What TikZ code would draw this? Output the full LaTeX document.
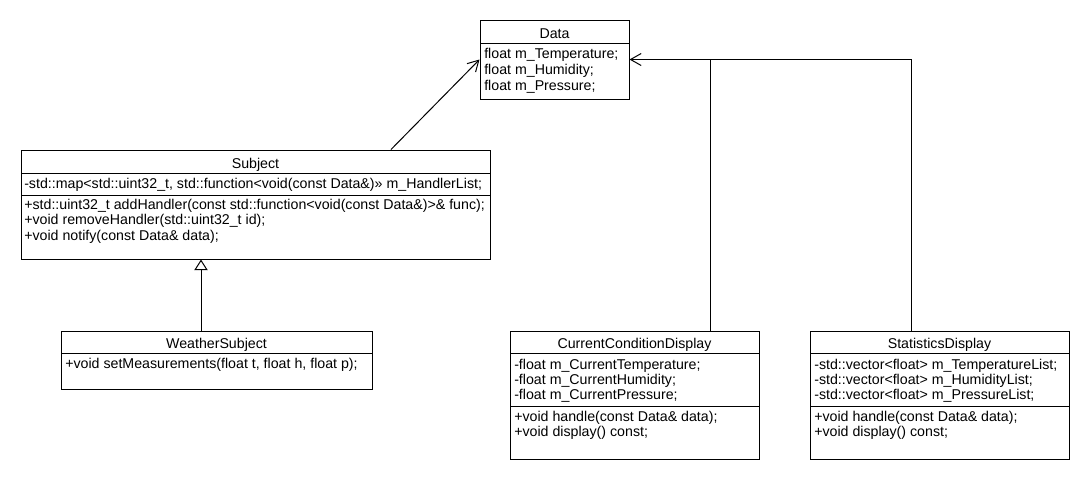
\documentclass[tikz,border=0pt]{standalone}
\usepackage{fontspec}
\setmainfont{Liberation Sans}
\usetikzlibrary{arrows.meta,fit}
\begin{document}
\begin{tikzpicture}[x=0.75pt,y=-0.75pt,
  classbox/.style={draw=black,line width=0.75pt,inner sep=0pt,fill=white},
  sepline/.style={draw=black,line width=0.75pt},
  txt/.style={inner sep=0pt,font=\fontsize{10.65pt}{12pt}\selectfont,text=black},
  title/.style={txt,anchor=base},
  member/.style={txt,anchor=base west},
  assoc/.style={draw=black,line width=0.75pt,-{Straight Barb[length=8pt,width=9pt,line width=0.75pt]}},
  gen/.style={draw=black,line width=0.75pt,-{Triangle[open,length=8pt,width=10pt,line width=0.75pt,fill=white]}},
  plainline/.style={draw=black,line width=0.75pt}
]
\useasboundingbox[fill=white] (0,0) rectangle (1090,480);

% ---------- Data ----------
\node[classbox,fit={(480,20) (629,99)}] (data) {};
\draw[sepline] (480,43) -- (629,43);
\node[title] (dataT) at (554.5,38) {Data};
\node[member] (dataA1) at (484,58) {float m\_Temperature;};
\node[member] (dataA2) at (484,74) {float m\_Humidity;};
\node[member] (dataA3) at (484,90) {float m\_Pressure;};

% ---------- Subject ----------
\node[classbox,fit={(21,150) (490,259)}] (subject) {};
\draw[sepline] (21,173) -- (490,173);
\draw[sepline] (21,195) -- (490,195);
\node[title] (subjT) at (255.5,168) {Subject};
\node[member] (subjA1) at (24,188) {-std::map<std::uint32\_t, std::function<void(const Data\&)» m\_HandlerList;};
\node[member] (subjM1) at (24,209) {+std::uint32\_t addHandler(const std::function<void(const Data\&)>\& func);};
\node[member] (subjM2) at (24,224.5) {+void removeHandler(std::uint32\_t id);};
\node[member] (subjM3) at (24,240) {+void notify(const Data\& data);};

% ---------- WeatherSubject ----------
\node[classbox,fit={(61,331) (372,389)}] (weather) {};
\draw[sepline] (61,353) -- (372,353);
\node[title] (weatherT) at (216.5,348) {WeatherSubject};
\node[member] (weatherM1) at (65,368) {+void setMeasurements(float t, float h, float p);};

% ---------- CurrentConditionDisplay ----------
\node[classbox,fit={(510,331) (759,459)}] (current) {};
\draw[sepline] (510,353) -- (759,353);
\draw[sepline] (510,406) -- (759,406);
\node[title] (currentT) at (634.5,348) {CurrentConditionDisplay};
\node[member] (currentA1) at (514,369) {-float m\_CurrentTemperature;};
\node[member] (currentA2) at (514,384) {-float m\_CurrentHumidity;};
\node[member] (currentA3) at (514,399) {-float m\_CurrentPressure;};
\node[member] (currentM1) at (514,421) {+void handle(const Data\& data);};
\node[member] (currentM2) at (514,436) {+void display() const;};

% ---------- StatisticsDisplay ----------
\node[classbox,fit={(810,331) (1069,459)}] (stats) {};
\draw[sepline] (810,353) -- (1069,353);
\draw[sepline] (810,406) -- (1069,406);
\node[title] (statsT) at (939.5,348) {StatisticsDisplay};
\node[member] (statsA1) at (814,369) {-std::vector<float> m\_TemperatureList;};
\node[member] (statsA2) at (814,384) {-std::vector<float> m\_HumidityList;};
\node[member] (statsA3) at (814,399) {-std::vector<float> m\_PressureList;};
\node[member] (statsM1) at (814,421) {+void handle(const Data\& data);};
\node[member] (statsM2) at (814,436) {+void display() const;};

% ---------- Connectors ----------
\draw[assoc] (391,0 |- subject.north) -- (data.west);
\draw[assoc] (710,0 |- current.north) |- (data.east);
\draw[plainline] (911,0 |- stats.north) |- (710,0 |- data.east);
\draw[gen] (201,0 |- weather.north) -- (201,0 |- subject.south);
\end{tikzpicture}
\end{document}
